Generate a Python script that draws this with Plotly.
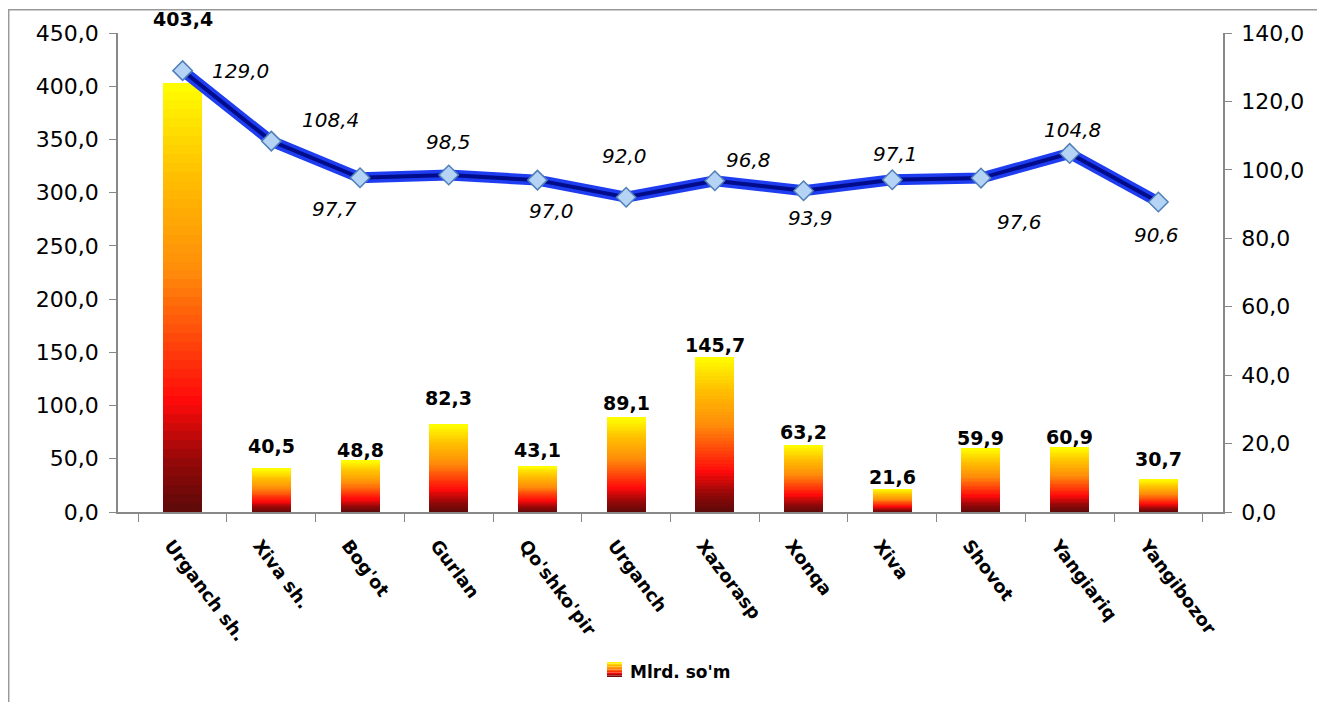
import plotly.graph_objects as go

categories = ["Urganch sh.", "Xiva sh.", "Bog'ot", "Gurlan", "Qo'shko'pir", "Urganch",
              "Xazorasp", "Xonqa", "Xiva", "Shovot", "Yangiariq", "Yangibozor"]
volume = [403.4, 40.5, 48.8, 82.3, 43.1, 89.1, 145.7, 63.2, 21.6, 59.9, 60.9, 30.7]
growth = [129.0, 108.4, 97.7, 98.5, 97.0, 92.0, 96.8, 93.9, 97.1, 97.6, 104.8, 90.6]
series_name = "Mlrd. so'm"
left_ticks = [0, 50, 100, 150, 200, 250, 300, 350, 400, 450]
right_ticks = [0, 20, 40, 60, 80, 100, 120, 140]

# style: label offsets (px)
line_label_shift = [(58, 0), (59, 21), (-26, -31), (0, 33), (14, -31), (-2, 41),
                    (34, 21), (7, -27), (3, 26), (39, -44), (3, 23), (-2, -33)]
bar_label_shift = [64, 23, 10, 26, 16, 14, 12, 13, 12, 10, 10, 20]

# gradient stops bottom -> top
stops = [(0.0, (92, 10, 10)), (0.12, (150, 8, 8)), (0.26, (255, 10, 10)),
         (0.40, (255, 70, 10)), (0.56, (255, 140, 10)), (0.78, (255, 190, 0)),
         (1.0, (255, 255, 0))]

def grad(t):
    for (a, ca), (b, cb) in zip(stops[:-1], stops[1:]):
        if a <= t <= b:
            f = (t - a) / (b - a)
            c = [round(ca[i] + (cb[i] - ca[i]) * f) for i in range(3)]
            return f"rgb({c[0]},{c[1]},{c[2]})"
    return "rgb(255,255,0)"

N = 48
FONT = "'DejaVu Sans', sans-serif"

fig = go.Figure()
for k in range(N):
    t = (k + 0.5) / N
    fig.add_trace(go.Bar(
        x=categories, y=[v / N for v in volume],
        marker=dict(color=grad(t), line=dict(width=0)),
        name=series_name, showlegend=False,
        hoverinfo="skip", yaxis="y"))

# line with a "tube" look
fig.add_trace(go.Scatter(x=categories, y=growth, yaxis="y2", mode="lines",
                         line=dict(color="#1f3df0", width=11), showlegend=False,
                         hoverinfo="skip"))
fig.add_trace(go.Scatter(x=categories, y=growth, yaxis="y2", mode="lines+markers",
                         line=dict(color="#000c8a", width=4),
                         marker=dict(symbol="diamond", size=15, color="#b5d3f5",
                                     line=dict(color="#4f7fb8", width=1.5)),
                         showlegend=False, hoverinfo="skip"))

ann = []
for c, v, s in zip(categories, volume, bar_label_shift):
    ann.append(dict(x=c, y=v, xref="x", yref="y", text=f"{v:.1f}".replace(".", ","),
                    showarrow=False, yshift=s,
                    font=dict(size=19, color="black", family=FONT, weight="bold")))
for c, v, (dx, dy) in zip(categories, growth, line_label_shift):
    ann.append(dict(x=c, y=v, xref="x", yref="y2", text=f"<i>{v:.1f}</i>".replace(".", ","),
                    showarrow=False, xshift=dx, yshift=dy,
                    font=dict(size=20, color="black", family=FONT)))

# page is offset by the 8px body margin
OFF = 8
W, H = 1325 - OFF, 702 - OFF
L, R, T, B = 118 - OFF, 1223 - OFF, 33 - OFF, 512 - OFF
pw, ph = R - L, B - T
def px(x): return (x - OFF - L) / pw
def py(y): return (B - (y - OFF)) / ph

# manual legend: gradient swatch + text
shapes = [dict(type="rect", xref="paper", yref="paper", x0=px(8.7), x1=px(1323.3),
               y0=py(720), y1=py(9.7), line=dict(color="#999", width=1.5), layer="below")]
ns = 10
sx0, sx1, sy_top, sy_bot = 607, 622, 662, 677
for k in range(ns):
    y_a = sy_bot - (sy_bot - sy_top) * k / ns
    y_b = sy_bot - (sy_bot - sy_top) * (k + 1) / ns
    shapes.append(dict(type="rect", xref="paper", yref="paper", x0=px(sx0), x1=px(sx1),
                       y0=py(y_a), y1=py(y_b), line=dict(width=0),
                       fillcolor=grad((k + 0.5) / ns)))
ann.append(dict(xref="paper", yref="paper", x=px(628), y=py(672), xanchor="left",
                yanchor="middle", showarrow=False, text=series_name,
                font=dict(size=17, color="black", family=FONT, weight="bold")))

fig.update_layout(
    width=W, height=H,
    margin=dict(l=L, r=W - R, t=T, b=H - B),
    barmode="stack", bargap=0.56,
    separators=",.",
    showlegend=False,
    paper_bgcolor="white", plot_bgcolor="white",
    font=dict(family=FONT, size=16, color="black"),
    annotations=ann,
    xaxis=dict(type="category", tickangle=53, tickson="boundaries", ticks="outside",
               ticklen=8, tickcolor="#888", showline=True, linecolor="#888", linewidth=1.5,
               showgrid=False, ticklabelstandoff=14, ticklabelshift=-12,
               tickfont=dict(size=18, family=FONT, weight="bold")),
    yaxis=dict(range=[0, 450], tickvals=left_ticks, tickformat=".1f", ticks="outside",
               ticklen=7, tickcolor="#888", showline=True, linecolor="#888", linewidth=1.5,
               showgrid=False, zeroline=False, ticklabelstandoff=6,
               tickfont=dict(size=22, family=FONT)),
    yaxis2=dict(range=[0, 140], tickvals=right_ticks, tickformat=".1f", overlaying="y",
                side="right", ticks="outside", ticklen=7, tickcolor="#888", showline=True,
                linecolor="#888", linewidth=1.5, showgrid=False, zeroline=False,
                ticklabelstandoff=5, tickfont=dict(size=22, family=FONT)),
    shapes=shapes,
)

fig.write_html("out.html")
